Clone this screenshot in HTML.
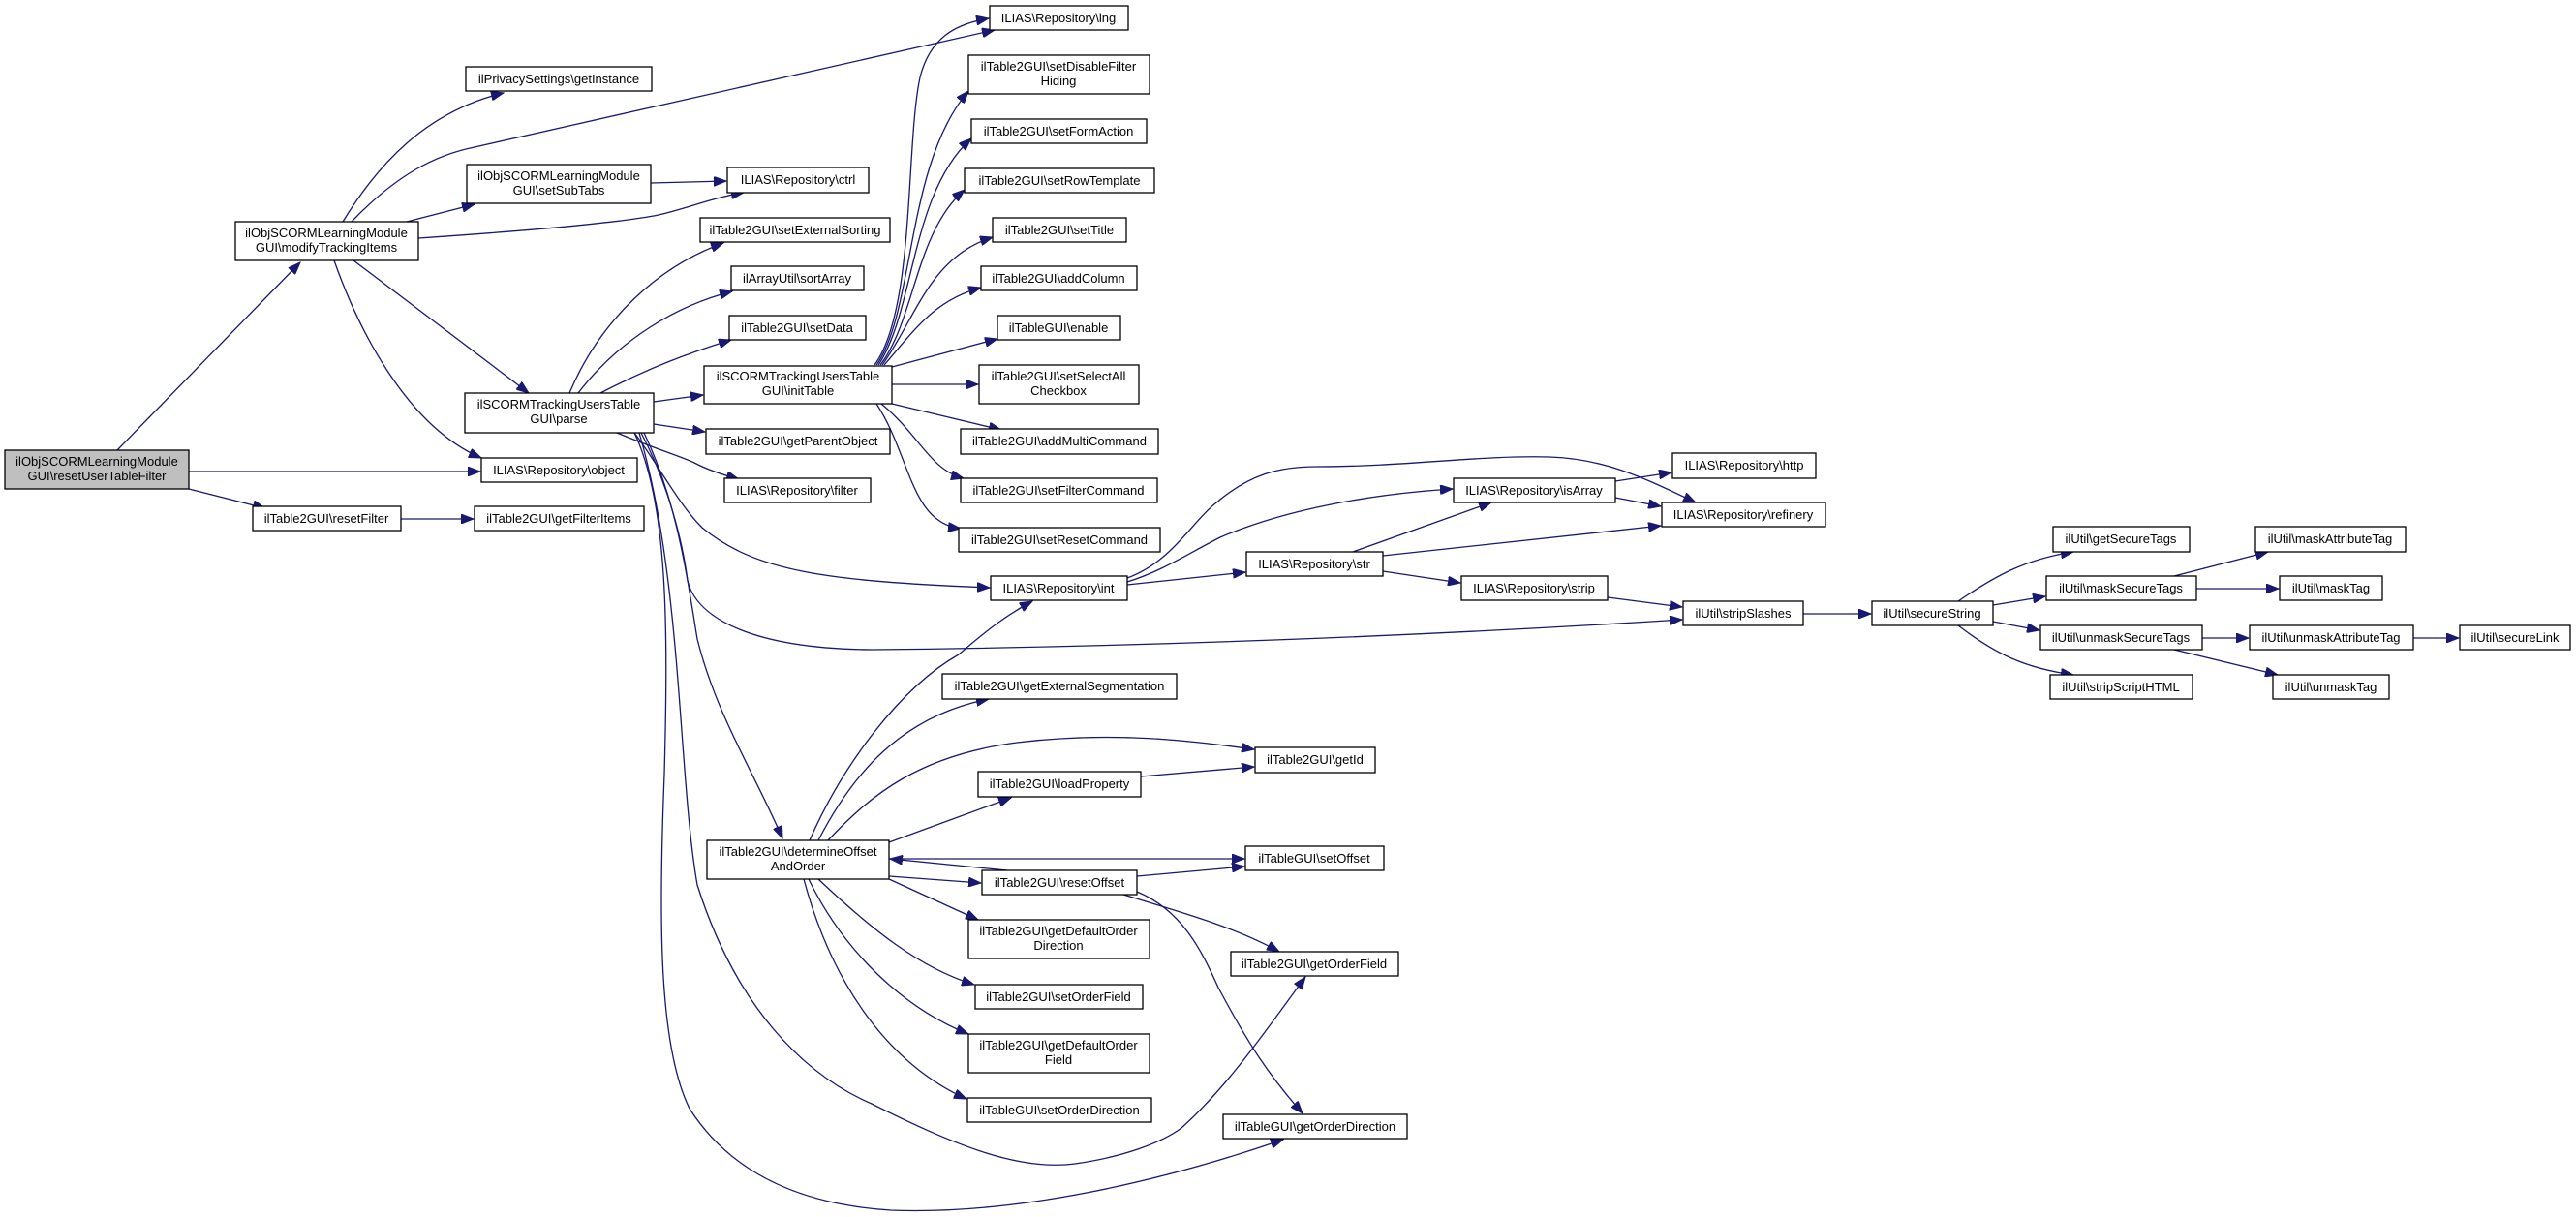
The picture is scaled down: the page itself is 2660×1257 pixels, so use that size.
<!DOCTYPE html>
<html><head><meta charset="utf-8"><style>
html,body{margin:0;padding:0;background:#fff;}
svg{display:block;}
text{font-family:"Liberation Sans",Arial,sans-serif;font-size:13px;fill:#000;}
.n{fill:#fff;stroke:#000;stroke-width:1.3;}
.e{fill:none;stroke:#191970;stroke-width:1.3;}
</style></head><body>
<svg width="2660" height="1257" viewBox="0 0 2660 1257" xmlns="http://www.w3.org/2000/svg">
<defs>
<marker id="a" markerUnits="userSpaceOnUse" markerWidth="14" markerHeight="10" refX="13" refY="5" orient="auto">
<path d="M0,0 L13,5 L0,10 z" fill="#191970" stroke="#191970"/>
</marker>
</defs>
<g marker-end="url(#a)">
<path class="e" d="M121,465 L310,271"/>
<path class="e" d="M195,487 L496,487"/>
<path class="e" d="M195,505 L274,525"/>
<path class="e" d="M354,229 C390,170 440,115 520,96"/>
<path class="e" d="M363,229 C410,180 450,160 490,152 L1027,31"/>
<path class="e" d="M420,229 L490,211"/>
<path class="e" d="M432,246 C550,238 640,230 680,222 C710,215 740,203 768,199"/>
<path class="e" d="M672,189 L750,187"/>
<path class="e" d="M365,269 L546,406"/>
<path class="e" d="M345,269 C370,340 420,440 497,473"/>
<path class="e" d="M414,536 L489,536"/>
<path class="e" d="M588,406 C620,330 680,275 747,251"/>
<path class="e" d="M597,406 C640,350 700,315 756,301"/>
<path class="e" d="M620,406 C670,380 710,365 755,351"/>
<path class="e" d="M675,415 L726,408"/>
<path class="e" d="M675,438 L728,446"/>
<path class="e" d="M637,447 C680,465 700,470 717,478 C730,485 745,490 763,495"/>
<path class="e" d="M655,447 C680,480 700,520 725,545 C780,590 850,600 1022,607"/>
<path class="e" d="M662,447 C690,500 705,560 710,600 C720,640 780,670 900,671 C1200,668 1500,655 1737,640"/>
<path class="e" d="M665,447 C700,520 710,600 720,660 C740,740 780,800 808,866"/>
<path class="e" d="M660,447 C705,600 700,800 720,914 C760,1040 830,1110 900,1140 C980,1180 1050,1210 1110,1202 C1160,1195 1200,1180 1220,1165 C1270,1120 1310,1060 1348,1009"/>
<path class="e" d="M655,447 C690,520 690,650 686,800 C680,950 680,1080 712,1145 C760,1220 840,1245 920,1250 C1050,1255 1200,1220 1325,1177"/>
<path class="e" d="M903,377 C945,320 935,150 950,80 C960,40 985,25 1021,19"/>
<path class="e" d="M905,377 C945,320 935,170 1000,94"/>
<path class="e" d="M907,377 C945,320 940,200 1003,143"/>
<path class="e" d="M909,377 C945,330 945,240 996,196"/>
<path class="e" d="M911,377 C945,330 960,265 1025,245"/>
<path class="e" d="M913,377 C945,340 965,310 1013,297"/>
<path class="e" d="M921,379 L1030,350"/>
<path class="e" d="M921,397 L1010,397"/>
<path class="e" d="M921,417 L1034,444"/>
<path class="e" d="M910,417 C950,450 960,485 995,494"/>
<path class="e" d="M905,417 C940,470 940,540 992,546"/>
<path class="e" d="M1164,597 C1210,580 1230,540 1255,520 C1290,490 1320,482 1360,482 C1450,482 1530,470 1600,472 C1660,474 1700,495 1751,519"/>
<path class="e" d="M1164,601 C1200,590 1230,570 1260,555 C1330,525 1420,510 1500,505"/>
<path class="e" d="M1164,604 L1286,591"/>
<path class="e" d="M1397,570 L1540,519"/>
<path class="e" d="M1428,574 L1715,543"/>
<path class="e" d="M1428,590 L1508,602"/>
<path class="e" d="M1668,497 L1726,488"/>
<path class="e" d="M1668,514 L1715,523"/>
<path class="e" d="M1660,617 L1737,627"/>
<path class="e" d="M1862,634 L1932,634"/>
<path class="e" d="M2022,621 C2060,595 2090,578 2141,570"/>
<path class="e" d="M2058,625 L2112,616"/>
<path class="e" d="M2058,642 L2106,651"/>
<path class="e" d="M2022,646 C2060,675 2090,690 2141,697"/>
<path class="e" d="M2245,595 L2342,570"/>
<path class="e" d="M2268,608 L2353,608"/>
<path class="e" d="M2274,659 L2322,659"/>
<path class="e" d="M2245,671 L2352,697"/>
<path class="e" d="M2492,659 L2539,659"/>
<path class="e" d="M836,868 C870,790 930,710 990,676 C1020,650 1040,635 1066,621"/>
<path class="e" d="M845,868 C880,800 930,740 1021,722"/>
<path class="e" d="M855,868 C900,820 950,780 1050,767 C1150,755 1230,765 1295,774"/>
<path class="e" d="M918,870 L1044,824"/>
<path class="e" d="M1178,802 L1295,792"/>
<path class="e" d="M918,887 L1285,887"/>
<path class="e" d="M1040,899 L919,887"/>
<path class="e" d="M918,905 L1013,912"/>
<path class="e" d="M1174,905 L1285,895"/>
<path class="e" d="M1160,924 C1230,945 1280,960 1321,983"/>
<path class="e" d="M1174,921 C1220,940 1240,980 1258,1020 C1290,1080 1310,1110 1345,1150"/>
<path class="e" d="M918,908 L1010,950"/>
<path class="e" d="M845,908 C900,960 950,1000 1006,1017"/>
<path class="e" d="M835,908 C870,980 930,1040 1000,1068"/>
<path class="e" d="M830,908 C860,1020 920,1100 998,1135"/>
</g>
<g text-anchor="middle">
<rect x="5" y="465" width="190" height="40" style="fill:#bfbfbf;stroke:#000;stroke-width:1.3"/>
<text x="100" y="481">ilObjSCORMLearningModule</text><text x="100" y="496">GUI\resetUserTableFilter</text>

<rect class="n" x="243" y="229" width="189" height="40"/><text x="337" y="245">ilObjSCORMLearningModule</text><text x="337" y="260">GUI\modifyTrackingItems</text>
<rect class="n" x="481" y="69" width="192" height="25"/><text x="577" y="86">ilPrivacySettings\getInstance</text>
<rect class="n" x="482" y="170" width="190" height="40"/><text x="577" y="186">ilObjSCORMLearningModule</text><text x="577" y="201">GUI\setSubTabs</text>
<rect class="n" x="751" y="173" width="146" height="26"/><text x="824" y="190">ILIAS\Repository\ctrl</text>
<rect class="n" x="480" y="406" width="195" height="41"/><text x="577" y="422">ilSCORMTrackingUsersTable</text><text x="577" y="437">GUI\parse</text>
<rect class="n" x="497" y="473" width="161" height="25"/><text x="577" y="490">ILIAS\Repository\object</text>
<rect class="n" x="261" y="523" width="153" height="25"/><text x="337" y="540">ilTable2GUI\resetFilter</text>
<rect class="n" x="490" y="523" width="175" height="25"/><text x="577" y="540">ilTable2GUI\getFilterItems</text>

<rect class="n" x="723" y="225" width="196" height="25"/><text x="821" y="242">ilTable2GUI\setExternalSorting</text>
<rect class="n" x="755" y="275" width="137" height="25"/><text x="823" y="292">ilArrayUtil\sortArray</text>
<rect class="n" x="753" y="326" width="141" height="25"/><text x="823" y="343">ilTable2GUI\setData</text>
<rect class="n" x="727" y="378" width="194" height="39"/><text x="824" y="393">ilSCORMTrackingUsersTable</text><text x="824" y="408">GUI\initTable</text>
<rect class="n" x="729" y="443" width="190" height="26"/><text x="824" y="460">ilTable2GUI\getParentObject</text>
<rect class="n" x="748" y="494" width="151" height="25"/><text x="823" y="511">ILIAS\Repository\filter</text>

<rect class="n" x="1022" y="6" width="143" height="25"/><text x="1093" y="23">ILIAS\Repository\lng</text>
<rect class="n" x="1000" y="57" width="187" height="40"/><text x="1093" y="73">ilTable2GUI\setDisableFilter</text><text x="1093" y="88">Hiding</text>
<rect class="n" x="1003" y="123" width="181" height="25"/><text x="1093" y="140">ilTable2GUI\setFormAction</text>
<rect class="n" x="996" y="174" width="196" height="25"/><text x="1094" y="191">ilTable2GUI\setRowTemplate</text>
<rect class="n" x="1025" y="225" width="138" height="25"/><text x="1094" y="242">ilTable2GUI\setTitle</text>
<rect class="n" x="1013" y="275" width="161" height="25"/><text x="1093" y="292">ilTable2GUI\addColumn</text>
<rect class="n" x="1030" y="326" width="127" height="25"/><text x="1093" y="343">ilTableGUI\enable</text>
<rect class="n" x="1011" y="377" width="165" height="40"/><text x="1093" y="393">ilTable2GUI\setSelectAll</text><text x="1093" y="408">Checkbox</text>
<rect class="n" x="992" y="443" width="204" height="26"/><text x="1094" y="460">ilTable2GUI\addMultiCommand</text>
<rect class="n" x="992" y="494" width="203" height="25"/><text x="1093" y="511">ilTable2GUI\setFilterCommand</text>
<rect class="n" x="990" y="545" width="208" height="25"/><text x="1094" y="562">ilTable2GUI\setResetCommand</text>
<rect class="n" x="1023" y="595" width="141" height="25"/><text x="1093" y="612">ILIAS\Repository\int</text>
<rect class="n" x="973" y="696" width="242" height="26"/><text x="1094" y="713">ilTable2GUI\getExternalSegmentation</text>
<rect class="n" x="1010" y="797" width="168" height="26"/><text x="1094" y="814">ilTable2GUI\loadProperty</text>
<rect class="n" x="730" y="868" width="188" height="40"/><text x="824" y="884">ilTable2GUI\determineOffset</text><text x="824" y="899">AndOrder</text>
<rect class="n" x="1014" y="899" width="160" height="25"/><text x="1094" y="916">ilTable2GUI\resetOffset</text>
<rect class="n" x="1000" y="950" width="187" height="40"/><text x="1093" y="966">ilTable2GUI\getDefaultOrder</text><text x="1093" y="981">Direction</text>
<rect class="n" x="1007" y="1017" width="173" height="25"/><text x="1093" y="1034">ilTable2GUI\setOrderField</text>
<rect class="n" x="1000" y="1068" width="187" height="40"/><text x="1093" y="1084">ilTable2GUI\getDefaultOrder</text><text x="1093" y="1099">Field</text>
<rect class="n" x="999" y="1134" width="190" height="25"/><text x="1094" y="1151">ilTableGUI\setOrderDirection</text>

<rect class="n" x="1296" y="772" width="124" height="26"/><text x="1358" y="789">ilTable2GUI\getId</text>
<rect class="n" x="1286" y="874" width="143" height="25"/><text x="1357" y="891">ilTableGUI\setOffset</text>
<rect class="n" x="1271" y="983" width="173" height="25"/><text x="1357" y="1000">ilTable2GUI\getOrderField</text>
<rect class="n" x="1263" y="1151" width="190" height="25"/><text x="1358" y="1168">ilTableGUI\getOrderDirection</text>
<rect class="n" x="1287" y="570" width="141" height="25"/><text x="1357" y="587">ILIAS\Repository\str</text>
<rect class="n" x="1501" y="494" width="167" height="25"/><text x="1584" y="511">ILIAS\Repository\isArray</text>
<rect class="n" x="1509" y="595" width="151" height="25"/><text x="1584" y="612">ILIAS\Repository\strip</text>
<rect class="n" x="1727" y="468" width="148" height="26"/><text x="1801" y="485">ILIAS\Repository\http</text>
<rect class="n" x="1716" y="519" width="169" height="25"/><text x="1800" y="536">ILIAS\Repository\refinery</text>
<rect class="n" x="1738" y="621" width="124" height="25"/><text x="1800" y="638">ilUtil\stripSlashes</text>
<rect class="n" x="1933" y="621" width="125" height="25"/><text x="1995" y="638">ilUtil\secureString</text>
<rect class="n" x="2120" y="544" width="141" height="26"/><text x="2190" y="561">ilUtil\getSecureTags</text>
<rect class="n" x="2113" y="595" width="155" height="25"/><text x="2190" y="612">ilUtil\maskSecureTags</text>
<rect class="n" x="2107" y="646" width="167" height="25"/><text x="2190" y="663">ilUtil\unmaskSecureTags</text>
<rect class="n" x="2117" y="697" width="147" height="25"/><text x="2190" y="714">ilUtil\stripScriptHTML</text>
<rect class="n" x="2329" y="544" width="155" height="26"/><text x="2406" y="561">ilUtil\maskAttributeTag</text>
<rect class="n" x="2354" y="595" width="106" height="25"/><text x="2407" y="612">ilUtil\maskTag</text>
<rect class="n" x="2323" y="646" width="169" height="25"/><text x="2407" y="663">ilUtil\unmaskAttributeTag</text>
<rect class="n" x="2347" y="697" width="120" height="25"/><text x="2407" y="714">ilUtil\unmaskTag</text>
<rect class="n" x="2540" y="646" width="114" height="25"/><text x="2597" y="663">ilUtil\secureLink</text>
</g>
</svg>
</body></html>
